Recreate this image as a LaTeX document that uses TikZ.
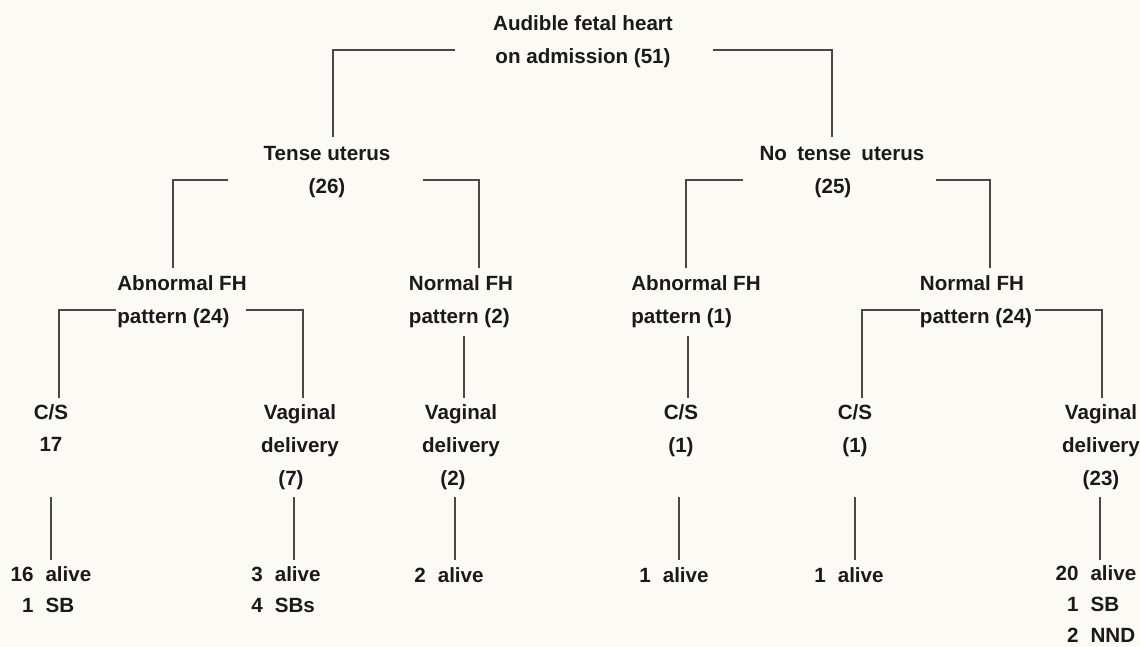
\documentclass[tikz,border=0pt]{standalone}
\usepackage{fontspec}
\setmainfont{Liberation Sans}
\usetikzlibrary{positioning}
\definecolor{paper}{HTML}{FBFAF5}
\definecolor{ink}{HTML}{1A1A1A}
\newcommand{\res}[1]{{\renewcommand{\arraystretch}{0.95}\begin{tabular}{@{}r@{\hspace{6pt}}l@{}}#1\end{tabular}}}

\begin{document}
\begin{tikzpicture}[x=0.5pt,y=-0.5pt,
    lbl/.style={inner sep=0pt,align=center,text=ink,font=\fontsize{10.3}{16.4}\selectfont\bfseries},
    lblL/.style={lbl,align=left},
    brk/.style={line width=0.6pt,draw=ink!80}
  ]
  \fill[paper] (0,0) rectangle (1140,647);
  \useasboundingbox (0,0) rectangle (1140,647);

  % level 0 and 1
  \node[lbl] (root) at (583,42) {Audible fetal heart\\on admission (51)};
  \node[lbl] (tense) at (327,172) {Tense uterus\\(26)};
  \node[lbl] (notense) at (842,172) {No\enspace tense\enspace uterus\\(25)\hspace*{9pt}};

  % level 2
  \node[lblL] (abnA) at (182,302) {Abnormal FH\\pattern (24)};
  \node[lblL] (normA) at (461,302) {Normal FH\\pattern (2)};
  \node[lblL] (abnB) at (696,302) {Abnormal FH\\pattern (1)};
  \node[lblL] (normB) at (976,302) {Normal FH\\pattern (24)};

  % level 3
  \node[lbl] (cs1) at (51,428) {C/S\\17};
  \node[lbl] (vag1) at (300,447) {Vaginal\\delivery\\(7)\hspace*{9pt}};
  \node[lbl] (vag2) at (461,447) {Vaginal\\delivery\\(2)\hspace*{8pt}};
  \node[lbl] (cs2) at (681,431) {C/S\\(1)};
  \node[lbl] (cs3) at (855,431) {C/S\\(1)};
  \node[lbl] (vag3) at (1101,447) {Vaginal\\delivery\\(23)};

  % outcomes
  \node[lbl] (out1) at (51,591) {\res{16&alive\\1&SB}};
  \node[lbl] (out2) at (286,591) {\res{3&alive\\4&SBs}};
  \node[lbl] (out3) at (449,576) {\res{2&alive}};
  \node[lbl] (out4) at (674,576) {\res{1&alive}};
  \node[lbl] (out5) at (849,576) {\res{1&alive}};
  \node[lbl] (out6) at (1096,605) {\res{20&alive\\1&SB\\2&NND}};

  % brackets
  \coordinate (root-l) at (455,50);   \coordinate (tense-t) at (333,137);
  \coordinate (root-r) at (713,50);   \coordinate (notense-t) at (832,137);
  \draw[brk] (root-l) -| (tense-t);
  \draw[brk] (root-r) -| (notense-t);

  \coordinate (tense-l) at (228,180); \coordinate (abnA-t) at (173,268);
  \coordinate (tense-r) at (423,180); \coordinate (normA-t) at (479,268);
  \draw[brk] (tense-l) -| (abnA-t);
  \draw[brk] (tense-r) -| (normA-t);

  \coordinate (notense-l) at (743,180); \coordinate (abnB-t) at (686,268);
  \coordinate (notense-r) at (936,180); \coordinate (normB-t) at (990,268);
  \draw[brk] (notense-l) -| (abnB-t);
  \draw[brk] (notense-r) -| (normB-t);

  \coordinate (abnA-l) at (116,310); \coordinate (cs1-t) at (59,398);
  \coordinate (abnA-r) at (246,310); \coordinate (vag1-t) at (303,398);
  \draw[brk] (abnA-l) -| (cs1-t);
  \draw[brk] (abnA-r) -| (vag1-t);

  \coordinate (normA-b) at (464,336); \coordinate (vag2-t) at (464,398);
  \coordinate (abnB-b) at (688,336);  \coordinate (cs2-t) at (688,398);
  \draw[brk] (normA-b) -- (vag2-t);
  \draw[brk] (abnB-b) -- (cs2-t);

  \coordinate (normB-l) at (920,310); \coordinate (cs3-t) at (862,398);
  \coordinate (normB-r) at (1035,310); \coordinate (vag3-t) at (1102,398);
  \draw[brk] (normB-l) -| (cs3-t);
  \draw[brk] (normB-r) -| (vag3-t);

  % down to outcomes
  \foreach \a/\b/\x in {cs1/out1/51,vag1/out2/294,vag2/out3/455,cs2/out4/679,cs3/out5/855,vag3/out6/1100}{
    \coordinate (\a-b) at (\x,497);
    \coordinate (\b-t) at (\x,560);
    \draw[brk] (\a-b) -- (\b-t);
  }
\end{tikzpicture}
\end{document}
